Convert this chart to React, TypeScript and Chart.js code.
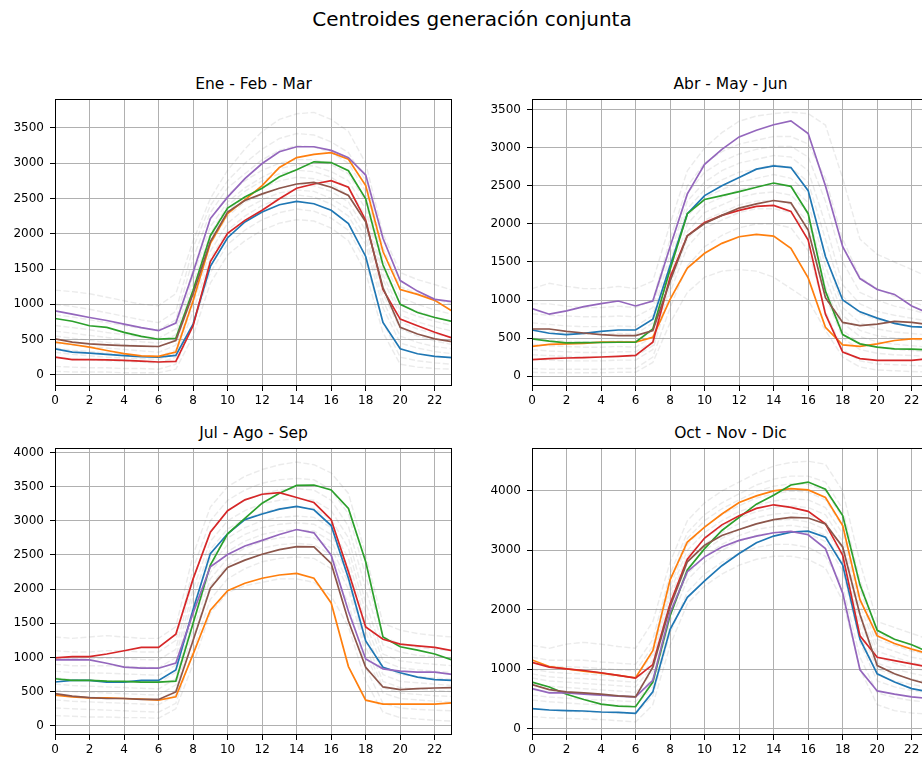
import { useEffect, useRef } from "react";
import { Chart, registerables } from "chart.js";

Chart.register(...registerables);

// ---- shared axis values ----
const HOURS = [0, 1, 2, 3, 4, 5, 6, 7, 8, 9, 10, 11, 12, 13, 14, 15, 16, 17, 18, 19, 20, 21, 22, 23];
const X_TICKS = [0, 2, 4, 6, 8, 10, 12, 14, 16, 18, 20, 22];
const CENTROID_COLORS = ["#1f77b4", "#ff7f0e", "#2ca02c", "#d62728", "#9467bd", "#8c564b"];

// ---- Ene - Feb - Mar ----
const Q1_BLUE = [369, 322, 308, 290, 272, 258, 252, 276, 720, 1537, 1944, 2168, 2308, 2411, 2458, 2425, 2332, 2145, 1678, 743, 369, 299, 262, 243];
const Q1_ORANGE = [463, 430, 393, 345, 300, 270, 262, 322, 1050, 1865, 2285, 2480, 2682, 2940, 3080, 3126, 3150, 3056, 2682, 1748, 1210, 1140, 1056, 906];
const Q1_GREEN = [799, 760, 696, 673, 603, 545, 505, 519, 1200, 1972, 2364, 2520, 2645, 2808, 2907, 3019, 3009, 2893, 2495, 1561, 1000, 883, 813, 757];
const Q1_RED = [252, 215, 215, 212, 205, 195, 182, 192, 696, 1607, 2005, 2190, 2332, 2495, 2645, 2705, 2752, 2659, 2192, 1210, 790, 696, 603, 523];
const Q1_PURPLE = [906, 860, 813, 770, 720, 670, 626, 733, 1450, 2215, 2519, 2780, 2995, 3163, 3233, 3233, 3182, 3079, 2832, 1935, 1336, 1187, 1070, 1037];
const Q1_BROWN = [509, 463, 440, 425, 415, 408, 402, 486, 1150, 1888, 2308, 2472, 2565, 2645, 2705, 2729, 2659, 2542, 2168, 1234, 673, 579, 509, 472];
const Q1_DAYS = [
  [1200, 1180, 1150, 1100, 1050, 1000, 980, 1150, 1900, 2500, 2900, 3200, 3450, 3620, 3700, 3720, 3620, 3450, 3000, 2000, 1450, 1350, 1280, 1200],
  [1000, 970, 930, 880, 830, 780, 740, 900, 1800, 2400, 2750, 3000, 3200, 3350, 3420, 3400, 3300, 3150, 2750, 1800, 1250, 1150, 1080, 1000],
  [850, 820, 780, 740, 700, 660, 640, 780, 1650, 2300, 2650, 2850, 3050, 3180, 3250, 3230, 3150, 3000, 2600, 1650, 1100, 1000, 920, 860],
  [700, 670, 640, 600, 570, 540, 520, 650, 1500, 2200, 2550, 2750, 2900, 3000, 3050, 3050, 2980, 2850, 2450, 1500, 1000, 900, 820, 750],
  [620, 590, 560, 530, 500, 470, 450, 570, 1400, 2100, 2450, 2650, 2800, 2920, 2980, 2960, 2880, 2750, 2350, 1420, 920, 830, 760, 700],
  [550, 520, 490, 460, 430, 410, 390, 500, 1300, 2000, 2400, 2600, 2750, 2850, 2900, 2880, 2800, 2650, 2250, 1350, 850, 750, 680, 620],
  [450, 420, 400, 380, 360, 340, 320, 420, 1200, 1950, 2320, 2520, 2650, 2750, 2800, 2780, 2700, 2550, 2150, 1250, 750, 650, 580, 530],
  [380, 350, 330, 310, 290, 270, 260, 350, 1100, 1850, 2250, 2450, 2550, 2650, 2700, 2680, 2600, 2450, 2050, 1150, 650, 550, 480, 430],
  [320, 290, 270, 250, 240, 230, 220, 300, 1000, 1750, 2150, 2350, 2480, 2580, 2620, 2600, 2500, 2350, 1950, 1050, 550, 460, 400, 370],
  [250, 230, 210, 200, 190, 180, 170, 250, 900, 1650, 2050, 2250, 2400, 2500, 2550, 2520, 2420, 2250, 1850, 950, 450, 380, 330, 300],
  [120, 110, 100, 100, 90, 90, 80, 150, 700, 1450, 1850, 2050, 2200, 2300, 2350, 2320, 2220, 2050, 1600, 750, 250, 200, 170, 150],
  [50, 40, 40, 40, 30, 30, 30, 80, 550, 1300, 1700, 1900, 2050, 2150, 2200, 2180, 2080, 1900, 1450, 600, 150, 110, 90, 80],
];
const Q1_Y_TICKS = [0, 500, 1000, 1500, 2000, 2500, 3000, 3500];
const Q1_Y_RANGE = [-158, 3907];

// ---- Abr - May - Jun ----
const Q2_BLUE = [606, 563, 546, 563, 589, 606, 606, 749, 1450, 2135, 2373, 2503, 2611, 2720, 2763, 2741, 2438, 1572, 1000, 845, 762, 693, 650, 641];
const Q2_ORANGE = [390, 416, 424, 430, 446, 446, 446, 511, 1009, 1420, 1615, 1745, 1832, 1862, 1840, 1680, 1291, 641, 411, 390, 424, 468, 489, 489];
const Q2_GREEN = [489, 459, 437, 440, 442, 445, 446, 619, 1400, 2135, 2321, 2373, 2425, 2482, 2538, 2495, 2135, 1117, 546, 424, 381, 359, 355, 346];
const Q2_RED = [217, 230, 238, 242, 251, 260, 273, 446, 1300, 1845, 2018, 2113, 2178, 2230, 2243, 2165, 1789, 814, 316, 230, 208, 208, 208, 230];
const Q2_PURPLE = [888, 814, 857, 914, 953, 987, 922, 987, 1700, 2395, 2785, 2980, 3144, 3231, 3304, 3356, 3188, 2503, 1702, 1282, 1139, 1074, 922, 823];
const Q2_BROWN = [619, 619, 589, 567, 546, 533, 533, 598, 1250, 1845, 2005, 2113, 2209, 2265, 2308, 2278, 1919, 1031, 706, 663, 684, 719, 706, 676];
const Q2_DAYS = [
  [1150, 1220, 1180, 1150, 1150, 1180, 1150, 1250, 2000, 2700, 3000, 3200, 3350, 3420, 3450, 3470, 3450, 3300, 2600, 1800, 1600, 1500, 1400, 1300],
  [950, 950, 920, 900, 900, 920, 900, 1000, 1800, 2500, 2800, 2950, 3050, 3100, 3150, 3150, 3050, 2600, 1800, 1300, 1150, 1050, 980, 900],
  [820, 800, 790, 780, 780, 790, 780, 900, 1700, 2400, 2680, 2820, 2920, 2980, 3020, 3020, 2880, 2300, 1500, 1100, 1000, 920, 870, 810],
  [700, 680, 660, 650, 650, 660, 650, 800, 1600, 2300, 2550, 2700, 2800, 2850, 2900, 2880, 2700, 2000, 1200, 950, 850, 800, 760, 720],
  [600, 580, 560, 550, 550, 560, 550, 700, 1500, 2200, 2450, 2580, 2680, 2720, 2780, 2740, 2550, 1800, 1050, 820, 740, 690, 660, 630],
  [500, 480, 460, 450, 450, 460, 450, 600, 1400, 2100, 2350, 2450, 2550, 2600, 2650, 2600, 2400, 1600, 900, 700, 620, 580, 560, 540],
  [420, 400, 390, 380, 380, 390, 380, 520, 1320, 2000, 2250, 2350, 2450, 2500, 2530, 2490, 2280, 1450, 800, 600, 530, 500, 480, 460],
  [350, 330, 320, 310, 310, 320, 320, 450, 1250, 1900, 2150, 2250, 2350, 2400, 2420, 2380, 2150, 1300, 700, 520, 450, 420, 400, 380],
  [280, 270, 260, 250, 250, 260, 260, 400, 1180, 1800, 2050, 2150, 2250, 2300, 2310, 2260, 2030, 1180, 600, 430, 380, 350, 335, 320],
  [220, 210, 200, 200, 200, 210, 210, 350, 1100, 1700, 1950, 2050, 2150, 2200, 2200, 2150, 1900, 1050, 500, 350, 300, 280, 270, 260],
  [100, 90, 90, 90, 90, 100, 100, 250, 900, 1450, 1700, 1850, 1950, 2000, 2000, 1950, 1650, 850, 350, 200, 160, 150, 140, 130],
  [50, 45, 45, 45, 45, 50, 50, 180, 700, 1100, 1300, 1380, 1400, 1380, 1300, 1150, 1000, 600, 250, 120, 80, 70, 60, 55],
];
const Q2_Y_TICKS = [0, 500, 1000, 1500, 2000, 2500, 3000, 3500];
const Q2_Y_RANGE = [-130, 3640];

// ---- Jul - Ago - Sep ----
const Q3_BLUE = [641, 665, 665, 641, 641, 665, 665, 819, 1700, 2520, 2810, 3017, 3099, 3171, 3210, 3161, 2930, 2159, 1243, 858, 776, 713, 675, 665];
const Q3_ORANGE = [448, 424, 410, 410, 400, 390, 376, 424, 1050, 1692, 1976, 2087, 2159, 2207, 2231, 2159, 1798, 867, 376, 318, 318, 318, 318, 337];
const Q3_GREEN = [689, 665, 665, 655, 651, 641, 641, 655, 1500, 2352, 2810, 3036, 3258, 3402, 3518, 3523, 3451, 3181, 2400, 1301, 1157, 1108, 1051, 964];
const Q3_RED = [993, 1012, 1012, 1051, 1099, 1147, 1147, 1340, 2150, 2834, 3147, 3306, 3388, 3412, 3340, 3267, 3017, 2255, 1446, 1267, 1195, 1171, 1147, 1099];
const Q3_PURPLE = [964, 969, 964, 916, 858, 843, 843, 920, 1650, 2328, 2506, 2631, 2713, 2800, 2872, 2824, 2496, 1677, 978, 834, 800, 786, 786, 752];
const Q3_BROWN = [472, 434, 414, 400, 400, 386, 386, 496, 1250, 2014, 2318, 2424, 2511, 2578, 2622, 2617, 2376, 1533, 858, 569, 530, 545, 554, 559];
const Q3_DAYS = [
  [1300, 1280, 1300, 1320, 1300, 1280, 1280, 1450, 2500, 3200, 3500, 3650, 3750, 3820, 3860, 3820, 3700, 3400, 2500, 1500, 1400, 1350, 1320, 1300],
  [1100, 1080, 1080, 1100, 1100, 1080, 1080, 1250, 2300, 3000, 3300, 3450, 3550, 3600, 3620, 3600, 3450, 3100, 2200, 1300, 1200, 1150, 1120, 1100],
  [1000, 980, 980, 990, 985, 970, 965, 1120, 2150, 2850, 3150, 3300, 3400, 3450, 3470, 3450, 3300, 2920, 2000, 1180, 1080, 1030, 1010, 990],
  [900, 880, 880, 880, 870, 860, 850, 1000, 2000, 2700, 3000, 3150, 3250, 3300, 3320, 3300, 3150, 2750, 1800, 1050, 950, 920, 900, 880],
  [800, 780, 775, 770, 760, 750, 740, 890, 1880, 2580, 2880, 3020, 3120, 3180, 3200, 3180, 3020, 2600, 1650, 950, 850, 820, 800, 780],
  [700, 680, 670, 660, 650, 640, 630, 780, 1750, 2450, 2750, 2900, 3000, 3050, 3070, 3050, 2900, 2450, 1500, 850, 750, 720, 700, 680],
  [610, 590, 580, 570, 560, 550, 540, 690, 1620, 2350, 2650, 2800, 2900, 2950, 2970, 2950, 2800, 2320, 1380, 750, 650, 630, 610, 590],
  [520, 500, 490, 480, 470, 460, 450, 600, 1500, 2250, 2550, 2700, 2800, 2850, 2870, 2850, 2700, 2200, 1250, 650, 560, 540, 520, 500],
  [450, 430, 420, 410, 400, 390, 380, 520, 1400, 2150, 2450, 2600, 2700, 2750, 2770, 2750, 2600, 2100, 1150, 560, 480, 460, 440, 430],
  [380, 360, 350, 340, 330, 320, 310, 450, 1300, 2050, 2350, 2500, 2600, 2650, 2670, 2650, 2500, 2000, 1050, 480, 400, 380, 360, 350],
  [260, 250, 240, 230, 220, 210, 200, 330, 1100, 1850, 2150, 2300, 2400, 2450, 2470, 2450, 2300, 1800, 850, 330, 260, 240, 230, 220],
  [150, 140, 130, 130, 120, 120, 110, 250, 900, 1650, 1950, 2050, 2100, 2150, 2150, 2100, 1900, 1450, 650, 200, 120, 100, 80, 70],
];
const Q3_Y_TICKS = [0, 500, 1000, 1500, 2000, 2500, 3000, 3500, 4000];
const Q3_Y_RANGE = [-134, 4062];

// ---- Oct - Nov - Dic ----
const Q4_BLUE = [333, 311, 300, 294, 277, 272, 255, 616, 1670, 2208, 2485, 2741, 2946, 3129, 3240, 3307, 3323, 3223, 2752, 1503, 921, 782, 671, 616];
const Q4_ORANGE = [1154, 1043, 1004, 965, 932, 893, 854, 1309, 2502, 3140, 3390, 3612, 3806, 3917, 4000, 4039, 4017, 3889, 3417, 2169, 1559, 1431, 1337, 1254];
const Q4_GREEN = [782, 699, 577, 488, 411, 377, 366, 782, 1900, 2669, 3029, 3334, 3556, 3778, 3928, 4100, 4150, 4028, 3584, 2419, 1653, 1503, 1409, 1282];
const Q4_RED = [1115, 1032, 1004, 976, 938, 893, 849, 1076, 2100, 2852, 3207, 3429, 3584, 3706, 3767, 3723, 3656, 3445, 2918, 1559, 1198, 1143, 1087, 1032];
const Q4_PURPLE = [671, 599, 599, 577, 560, 544, 533, 810, 1950, 2641, 2890, 3057, 3168, 3240, 3296, 3318, 3262, 3029, 2280, 988, 632, 577, 533, 505];
const Q4_BROWN = [738, 655, 616, 599, 577, 549, 533, 1032, 2050, 2807, 3085, 3251, 3351, 3445, 3517, 3556, 3545, 3445, 3057, 1920, 1060, 921, 821, 743];
const Q4_DAYS = [
  [1400, 1350, 1420, 1450, 1420, 1380, 1350, 1800, 2800, 3500, 3800, 4000, 4150, 4300, 4420, 4480, 4500, 4450, 4000, 2800, 1800, 1700, 1600, 1500],
  [1200, 1150, 1150, 1150, 1120, 1100, 1080, 1500, 2600, 3300, 3600, 3800, 3950, 4100, 4200, 4250, 4250, 4150, 3700, 2500, 1600, 1500, 1400, 1350],
  [1100, 1050, 1040, 1030, 1010, 990, 970, 1380, 2500, 3200, 3500, 3700, 3850, 3990, 4080, 4120, 4110, 4000, 3550, 2350, 1500, 1400, 1300, 1250],
  [1000, 950, 930, 920, 900, 880, 860, 1250, 2400, 3100, 3400, 3600, 3750, 3880, 3950, 4000, 3980, 3850, 3400, 2200, 1400, 1300, 1200, 1150],
  [920, 870, 850, 840, 820, 800, 780, 1150, 2300, 3000, 3300, 3500, 3650, 3760, 3830, 3870, 3850, 3720, 3280, 2080, 1300, 1200, 1110, 1050],
  [850, 800, 780, 760, 740, 720, 700, 1050, 2200, 2900, 3200, 3400, 3550, 3650, 3720, 3750, 3720, 3600, 3150, 1950, 1200, 1100, 1020, 960],
  [750, 710, 690, 670, 650, 630, 610, 950, 2100, 2800, 3100, 3300, 3450, 3550, 3610, 3630, 3600, 3480, 3020, 1820, 1100, 1000, 930, 870],
  [650, 620, 600, 580, 560, 540, 520, 850, 2000, 2700, 3000, 3200, 3350, 3450, 3500, 3520, 3480, 3350, 2900, 1700, 1000, 900, 830, 780],
  [560, 530, 510, 490, 480, 465, 450, 780, 1900, 2600, 2900, 3100, 3250, 3350, 3400, 3420, 3380, 3250, 2780, 1580, 900, 800, 740, 690],
  [480, 450, 430, 410, 400, 390, 380, 700, 1800, 2500, 2800, 3000, 3150, 3250, 3300, 3320, 3280, 3150, 2650, 1450, 800, 700, 640, 600],
  [330, 310, 290, 280, 270, 260, 250, 550, 1600, 2300, 2600, 2800, 2950, 3050, 3100, 3100, 3050, 2900, 2400, 1200, 600, 520, 470, 440],
  [200, 180, 170, 160, 150, 130, 110, 400, 1400, 2100, 2400, 2600, 2750, 2850, 2900, 2900, 2850, 2700, 2150, 1000, 400, 300, 260, 240],
];
const Q4_Y_TICKS = [0, 1000, 2000, 3000, 4000];
const Q4_Y_RANGE = [-110, 4720];

const MAIN_TITLE = "Centroides generación conjunta";

const PANELS = [
  { title: "Ene - Feb - Mar", centroids: [Q1_BLUE, Q1_ORANGE, Q1_GREEN, Q1_RED, Q1_PURPLE, Q1_BROWN], days: Q1_DAYS, yTicks: Q1_Y_TICKS, yRange: Q1_Y_RANGE, box: { left: 55, top: 96, width: 397, height: 290 } },
  { title: "Abr - May - Jun", centroids: [Q2_BLUE, Q2_ORANGE, Q2_GREEN, Q2_RED, Q2_PURPLE, Q2_BROWN], days: Q2_DAYS, yTicks: Q2_Y_TICKS, yRange: Q2_Y_RANGE, box: { left: 532, top: 96, width: 397, height: 290 } },
  { title: "Jul - Ago - Sep", centroids: [Q3_BLUE, Q3_ORANGE, Q3_GREEN, Q3_RED, Q3_PURPLE, Q3_BROWN], days: Q3_DAYS, yTicks: Q3_Y_TICKS, yRange: Q3_Y_RANGE, box: { left: 55, top: 445, width: 397, height: 290 } },
  { title: "Oct - Nov - Dic", centroids: [Q4_BLUE, Q4_ORANGE, Q4_GREEN, Q4_RED, Q4_PURPLE, Q4_BROWN], days: Q4_DAYS, yTicks: Q4_Y_TICKS, yRange: Q4_Y_RANGE, box: { left: 532, top: 445, width: 397, height: 290 } },
];

const FONT_FAMILY = '"DejaVu Sans", "Liberation Sans", sans-serif';
const AXIS_W = 55; // room for the y tick labels
const AXIS_H = 30; // room for the x tick labels
const PAD_TOP = 10;
const PAD_RIGHT = 10;

const toPoints = (vals: number[]) => vals.map((y, i) => ({ x: HOURS[i], y }));

// Draws the four spines around the plot area, above the lines.
const framePlugin = {
  id: "frame",
  afterDatasetsDraw(chart: any) {
    const { ctx, chartArea: a } = chart;
    const l = Math.round(a.left);
    const t = Math.round(a.top);
    const r = Math.round(a.right);
    const b = Math.round(a.bottom);
    ctx.save();
    ctx.strokeStyle = "#000";
    ctx.lineWidth = 1;
    ctx.strokeRect(l + 0.5, t + 0.5, r - l - 1, b - t - 1);
    ctx.restore();
  },
};

function Panel({ panel }: { panel: any }) {
  const ref = useRef<HTMLCanvasElement>(null);
  const { box } = panel;
  const cw = box.width + AXIS_W + PAD_RIGHT;
  const ch = box.height + PAD_TOP + AXIS_H;

  useEffect(() => {
    if (!ref.current) return;
    const dayDatasets = panel.days.map((d: number[]) => ({
      data: toPoints(d),
      borderColor: "rgba(128,128,128,0.16)",
      borderWidth: 1.4,
      borderDash: [6, 2.5],
      pointRadius: 0,
      tension: 0,
      order: 20,
    }));
    const centroidDatasets = panel.centroids.map((c: number[], i: number) => ({
      data: toPoints(c),
      borderColor: CENTROID_COLORS[i],
      borderWidth: 1.7,
      pointRadius: 0,
      tension: 0,
      order: 10 - i,
    }));
    const tickFont = { family: FONT_FAMILY, size: 12 };
    const chart = new Chart(ref.current, {
      type: "line",
      data: { datasets: [...dayDatasets, ...centroidDatasets] },
      plugins: [framePlugin],
      options: {
        animation: false,
        responsive: false,
        devicePixelRatio: 1,
        events: [],
        layout: { padding: { top: PAD_TOP, right: PAD_RIGHT, left: 0, bottom: 0 } },
        plugins: { legend: { display: false }, tooltip: { enabled: false }, title: { display: false } },
        scales: {
          x: {
            type: "linear",
            min: 0,
            max: 23,
            afterBuildTicks: (s: any) => {
              s.ticks = X_TICKS.map((v) => ({ value: v }));
            },
            afterFit: (s: any) => {
              s.height = AXIS_H;
            },
            grid: { color: "#b0b0b0", lineWidth: 1, tickColor: "#000", tickLength: 5, tickWidth: 1 },
            border: { display: false },
            ticks: {
              font: tickFont,
              color: "#000",
              padding: 3,
              maxRotation: 0,
              autoSkip: false,
              callback: (v: any) => String(v),
            },
          },
          y: {
            type: "linear",
            min: panel.yRange[0],
            max: panel.yRange[1],
            afterBuildTicks: (s: any) => {
              s.ticks = panel.yTicks.map((v: number) => ({ value: v }));
            },
            afterFit: (s: any) => {
              s.width = AXIS_W;
            },
            grid: { color: "#b0b0b0", lineWidth: 1, tickColor: "#000", tickLength: 5, tickWidth: 1 },
            border: { display: false },
            ticks: {
              font: tickFont,
              color: "#000",
              padding: 6,
              autoSkip: false,
              callback: (v: any) => String(v),
            },
          },
        },
      },
    } as any);
    return () => chart.destroy();
  }, []);

  return (
    <>
      <div
        style={{
          position: "absolute",
          left: box.left,
          top: box.top - 21.7,
          width: box.width,
          textAlign: "center",
          fontFamily: FONT_FAMILY,
          fontSize: 15.5,
          lineHeight: "20px",
          whiteSpace: "nowrap",
          color: "#000",
        }}
      >
        {panel.title}
      </div>
      <canvas
        ref={ref}
        width={cw}
        height={ch}
        style={{
          position: "absolute",
          left: box.left - AXIS_W,
          top: box.top - PAD_TOP,
          width: cw,
          height: ch,
        }}
      />
    </>
  );
}

export default function App() {
  return (
    <div
      style={{
        position: "fixed",
        left: 0,
        top: 0,
        width: 922,
        height: 757,
        overflow: "hidden",
        background: "#fff",
      }}
    >
      <div
        style={{
          position: "absolute",
          left: 0,
          top: 7,
          width: 944,
          textAlign: "center",
          fontFamily: FONT_FAMILY,
          fontSize: 20,
          lineHeight: "24px",
          whiteSpace: "nowrap",
          color: "#000",
        }}
      >
        {MAIN_TITLE}
      </div>
      {PANELS.map((p) => (
        <Panel key={p.title} panel={p} />
      ))}
    </div>
  );
}
